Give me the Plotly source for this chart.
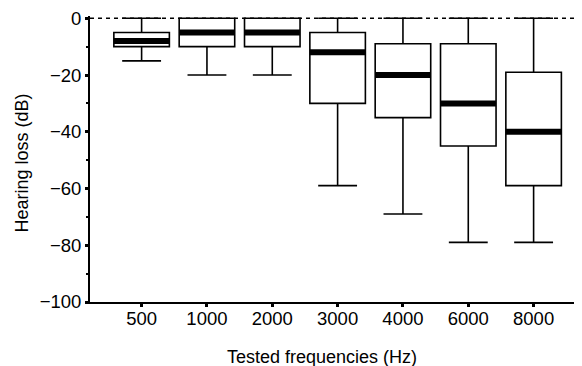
import plotly.graph_objects as go

categories = ["500", "1000", "2000", "3000", "4000", "6000", "8000"]
upper_whisker = [0, 0, 0, 0, 0, 0, 0]
q3 = [-5, 0, 0, -5, -9, -9, -19]
median = [-8, -5, -5, -12, -20, -30, -40]
q1 = [-10, -10, -10, -30, -35, -45, -59]
lower_whisker = [-15, -20, -20, -59, -69, -79, -79]
y_ticks = [0, -20, -40, -60, -80, -100]

FONT = "Liberation Sans, Arial, sans-serif"

# page body has an 8px default margin; layout compensates for it
L, T, PW, PH = 82, 8, 490, 286

fig = go.Figure()
fig.add_hline(y=0, line=dict(color="black", width=1.5, dash="4px,4px"), layer="below")

fig.add_trace(go.Box(
    x=categories,
    q1=q1, median=median, q3=q3,
    lowerfence=lower_whisker, upperfence=upper_whisker,
    width=0.85, whiskerwidth=0.7,
    fillcolor="white",
    line=dict(color="black", width=1.6),
    boxpoints=False, showlegend=False, hoverinfo="skip",
))

fig.add_trace(go.Scatter(
    x=categories, y=median, mode="markers",
    marker=dict(symbol="line-ew", size=39.5, color="black",
                line=dict(color="black", width=6)),
    showlegend=False, hoverinfo="skip", cliponaxis=False,
))

fig.update_layout(
    width=582, height=366,
    margin=dict(l=L, r=582 - L - PW, t=T, b=366 - T - PH),
    plot_bgcolor="white", paper_bgcolor="white",
    font=dict(family=FONT, size=18, color="black"),
    xaxis=dict(
        type="category", range=[-0.79, 6.71], automargin=False,
        showline=True, linecolor="black", linewidth=1.8,
        ticks="outside", ticklen=3, tickwidth=2.5, tickcolor="black",
        showgrid=False, zeroline=False,
        tickfont=dict(size=18.5), ticklabelstandoff=-4,
    ),
    yaxis=dict(
        range=[-100, 0.8], automargin=False,
        tickvals=y_ticks, ticktext=[("\u2212" + str(-v)) if v < 0 else str(v) for v in y_ticks],
        showline=True, linecolor="black", linewidth=1.8,
        ticks="outside", ticklen=3, tickwidth=2.5, tickcolor="black",
        minor=dict(dtick=10, ticks="outside", ticklen=2, tickwidth=1.5, tickcolor="black"),
        showgrid=False, zeroline=False,
        tickfont=dict(size=18.5), ticklabeloverflow="allow",
    ),
    annotations=[
        dict(text="Tested frequencies (Hz)", xref="paper", yref="paper",
             x=(313.5 - L) / PW, y=-(348.5 - (T + PH)) / PH, xanchor="center", yanchor="middle",
             showarrow=False, font=dict(size=18)),
        dict(text="Hearing loss (dB)", xref="paper", yref="paper",
             x=(13 - L) / PW, y=((T + PH) - 155.5) / PH, xanchor="center", yanchor="middle",
             textangle=-90, showarrow=False, font=dict(size=18)),
    ],
)

fig.write_html("out.html")
